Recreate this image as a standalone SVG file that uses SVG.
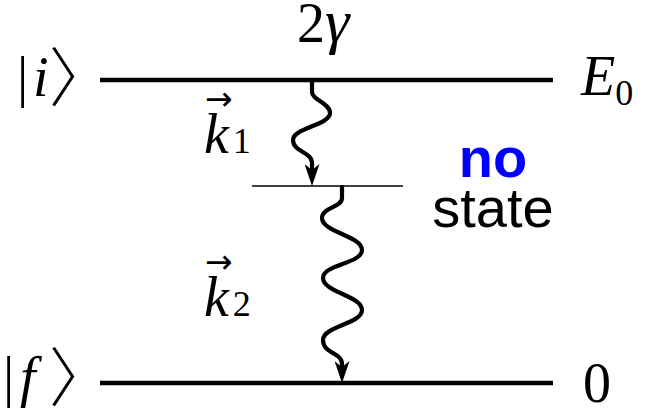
<svg xmlns="http://www.w3.org/2000/svg" width="647" height="411" viewBox="0 0 647 411">
<style>
.m{font-family:"Liberation Serif","DejaVu Serif",serif;font-size:56px;fill:#000}
.it{font-style:italic}
.sub{font-size:36px;font-style:normal}
.acc{font-family:"DejaVu Sans",sans-serif;font-size:33px;font-style:normal}
.br{font-family:"Noto Sans CJK SC","Noto Sans CJK JP",sans-serif;font-size:64px;font-style:normal;font-weight:300}
.s{font-family:"Liberation Sans",Arial,sans-serif;font-size:56px}
.lvl{stroke:#000;stroke-width:4.3;fill:none}
.w{stroke:#000;stroke-width:4.2;fill:none;stroke-linecap:round}
</style>
<defs>
<marker id="ah" viewBox="0 0 22 15" refX="14" refY="7.5" markerWidth="22" markerHeight="15" markerUnits="userSpaceOnUse" orient="auto">
<path d="M0,0 L22,7.5 L0,15 L6,7.5 Z" fill="#000"/>
</marker>
</defs>
<g id="level-i">
<line class="lvl" x1="100" y1="80" x2="553" y2="80"/>
<text class="m" y="96" font-size="62"><tspan x="17">|</tspan><tspan class="it" x="33">i</tspan><tspan class="br" x="49" y="101">〉</tspan></text>
<text class="m" x="581" y="95" font-size="59"><tspan class="it">E</tspan><tspan class="sub" dy="10">0</tspan></text>
</g>
<g id="level-f">
<line class="lvl" x1="100" y1="383" x2="553" y2="383"/>
<text class="m" y="396" font-size="62"><tspan x="3">|</tspan><tspan class="it" x="20">f</tspan><tspan class="br" x="49" y="401">〉</tspan></text>
<text class="m" x="583" y="402">0</text>
</g>
<g id="level-mid">
<line x1="252" y1="186" x2="403" y2="186" stroke="#000" stroke-width="1.5"/>
<text class="s" text-anchor="middle"><tspan x="493" y="177" font-weight="bold" fill="#0000ff">no</tspan><tspan x="493" y="227" fill="#000">state</tspan></text>
</g>
<g id="label-gamma">
<text class="m" x="297" y="42">2<tspan class="it" font-size="62">γ</tspan></text>
</g>
<g id="label-k1">
<text class="m"><tspan class="acc" x="205" y="110">→</tspan><tspan class="it" x="204" y="153">k</tspan><tspan class="sub" dx="4">1</tspan></text>
</g>
<g id="label-k2">
<text class="m"><tspan class="acc" x="205" y="273">→</tspan><tspan class="it" x="204" y="316">k</tspan><tspan class="sub" dx="4">2</tspan></text>
</g>
<g id="connectors">
<path class="w" d="M312,81 L312,92 C312,100 330,103 330,113 C330,125 293,128 293,140 C293,152 312,152 312,163 L312,178" marker-end="url(#ah)"/>
<path class="w" d="M342,187 L342,198 C342,208 322,207 322,218 C322,232 362,236 362,250 C362,264 323,264 323,278 C323,292 362,296 362,310 C362,324 323,326 323,340 C323,354 342,352 342,364 L342,375" marker-end="url(#ah)"/>
</g>
</svg>
